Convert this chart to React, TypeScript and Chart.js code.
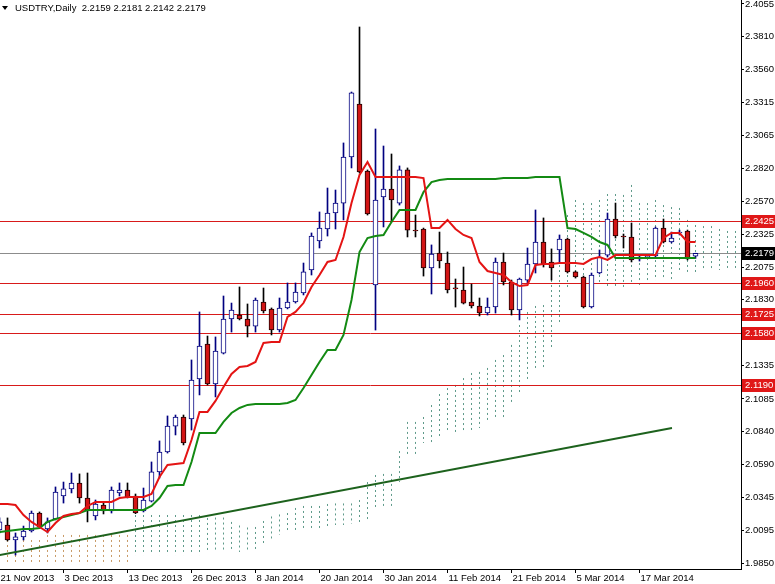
import React, { useEffect, useRef } from 'react';
import { Chart, registerables } from 'chart.js';

Chart.register(...registerables);

const FONT = "'Liberation Sans', Arial, sans-serif";
const FONT_SIZE = 9.5;

const symbol = 'USDTRY';
const timeframe = 'Daily';

const dateTickIndex = [0, 8, 16, 24, 32, 40, 48, 56, 64, 72, 80];
const dateTickLabels = ['21 Nov 2013', '3 Dec 2013', '13 Dec 2013', '26 Dec 2013', '8 Jan 2014', '20 Jan 2014', '30 Jan 2014', '11 Feb 2014', '21 Feb 2014', '5 Mar 2014', '17 Mar 2014'];

const priceTicks = [2.4055, 2.381, 2.356, 2.3315, 2.3065, 2.282, 2.257, 2.2325, 2.2075, 2.183, 2.158, 2.1335, 2.1085, 2.084, 2.059, 2.0345, 2.0095, 1.985];

const opens = [
  2.0099, 2.0137, 2.0024, 2.0047, 2.0092, 2.0227, 2.0107, 2.0182, 2.0355, 2.0408,
  2.0453, 2.0340, 2.0205, 2.0287, 2.0242, 2.0378, 2.0400, 2.0355, 2.0242, 2.0317,
  2.0536, 2.0686, 2.0881, 2.0949, 2.0934, 2.1235, 2.1498, 2.1197, 2.1430, 2.1686,
  2.1716, 2.1686, 2.1633, 2.1814, 2.1761, 2.1603, 2.1769, 2.1814, 2.1882, 2.2055,
  2.2273, 2.2363, 2.2483, 2.2558, 2.2904, 2.3303, 2.2799, 2.1942, 2.2604, 2.2664,
  2.2558, 2.2807, 2.2355, 2.2363, 2.2070, 2.2182, 2.2107, 2.1919, 2.1904, 2.1814,
  2.1784, 2.1731, 2.1776, 2.2115, 2.1964, 2.1754, 2.1979, 2.2100, 2.2265, 2.2115,
  2.2205, 2.2288, 2.2040, 2.2002, 2.1776, 2.2032, 2.2167, 2.2438, 2.2310, 2.2303,
  2.2137, 2.2152, 2.2160, 2.2370, 2.2265, 2.2333, 2.2348, 2.2159,
];
const highs = [
  2.0190, 2.0190, 2.0077, 2.0129, 2.0242, 2.0235, 2.0190, 2.0423, 2.0460, 2.0528,
  2.0521, 2.0528, 2.0325, 2.0302, 2.0423, 2.0453, 2.0453, 2.0370, 2.0415, 2.0611,
  2.0769, 2.0957, 2.0964, 2.0964, 2.1378, 2.1739, 2.1558, 2.1551, 2.1859, 2.1806,
  2.1927, 2.1799, 2.1844, 2.1919, 2.1769, 2.1844, 2.1957, 2.1957, 2.2107, 2.2333,
  2.2491, 2.2671, 2.2656, 2.3010, 2.3393, 2.3882, 2.2807, 2.3115, 2.2987, 2.2927,
  2.2837, 2.2822, 2.2468, 2.2370, 2.2243, 2.2340, 2.2190, 2.1987, 2.2077, 2.1949,
  2.1844, 2.1844, 2.2145, 2.2182, 2.1979, 2.1994, 2.2220, 2.2506, 2.2446, 2.2213,
  2.2318, 2.2295, 2.2047, 2.2009, 2.2032, 2.2205, 2.2483, 2.2558, 2.2325, 2.2408,
  2.2167, 2.2167, 2.2378, 2.2438, 2.2340, 2.2355, 2.2355, 2.2181,
];
const lows = [
  2.0077, 2.0017, 1.9911, 2.0024, 2.0084, 2.0114, 2.0077, 2.0175, 2.0302, 2.0378,
  2.0302, 2.0160, 2.0175, 2.0220, 2.0227, 2.0355, 2.0340, 2.0222, 2.0235, 2.0310,
  2.0490, 2.0678, 2.0814, 2.0739, 2.0851, 2.1115, 2.1190, 2.1100, 2.1423, 2.1588,
  2.1679, 2.1551, 2.1588, 2.1731, 2.1566, 2.1588, 2.1762, 2.1806, 2.1867, 2.2017,
  2.2220, 2.2310, 2.2363, 2.2431, 2.2822, 2.2784, 2.2468, 2.1603, 2.2378, 2.2416,
  2.2543, 2.2303, 2.2303, 2.2009, 2.1874, 2.2070, 2.1882, 2.1776, 2.1799, 2.1769,
  2.1709, 2.1716, 2.1731, 2.1942, 2.1716, 2.1679, 2.1957, 2.2032, 2.2077, 2.1979,
  2.2115, 2.2032, 2.1994, 2.1769, 2.1769, 2.2025, 2.2152, 2.2295, 2.2220, 2.2115,
  2.2122, 2.2145, 2.2152, 2.2258, 2.2258, 2.2318, 2.2130, 2.2142,
];
const closes = [
  2.0160, 2.0024, 2.0047, 2.0092, 2.0227, 2.0122, 2.0160, 2.0385, 2.0408, 2.0453,
  2.0340, 2.0242, 2.0295, 2.0242, 2.0400, 2.0400, 2.0348, 2.0227, 2.0325, 2.0536,
  2.0686, 2.0881, 2.0949, 2.0754, 2.1227, 2.1483, 2.1197, 2.1445, 2.1686, 2.1754,
  2.1686, 2.1633, 2.1829, 2.1746, 2.1603, 2.1769, 2.1814, 2.1889, 2.2040, 2.2310,
  2.2370, 2.2483, 2.2558, 2.2904, 2.3386, 2.2792, 2.2476, 2.2581, 2.2664, 2.2581,
  2.2807, 2.2355, 2.2348, 2.2070, 2.2175, 2.2122, 2.1904, 2.1912, 2.1806, 2.1784,
  2.1731, 2.1776, 2.2115, 2.1964, 2.1754, 2.1987, 2.2100, 2.2265, 2.2100, 2.2070,
  2.2288, 2.2040, 2.2002, 2.1776, 2.2017, 2.2152, 2.2438, 2.2310, 2.2303, 2.2130,
  2.2152, 2.2160, 2.2370, 2.2265, 2.2295, 2.2340, 2.2137, 2.2179,
];

// Ichimoku Tenkan-sen (red) and Kijun-sen (green)
const tenkan = [
  2.0295, 2.0295, 2.0287, 2.0212, 2.0160, 2.0122, 2.0084, 2.0152, 2.0205, 2.0220,
  2.0227, 2.0280, 2.0310, 2.0310, 2.0310, 2.0340, 2.0348, 2.0348, 2.0348, 2.0370,
  2.0498, 2.0588, 2.0596, 2.0603, 2.0776, 2.0987, 2.0987, 2.1070, 2.1175, 2.1273,
  2.1325, 2.1333, 2.1363, 2.1506, 2.1513, 2.1513, 2.1701, 2.1739, 2.1806, 2.1927,
  2.2017, 2.2115, 2.2130, 2.2303, 2.2558, 2.2769, 2.2867, 2.2754, 2.2754, 2.2754,
  2.2754, 2.2754, 2.2754, 2.2746, 2.2370, 2.2370, 2.2431, 2.2363, 2.2318, 2.2295,
  2.2115, 2.2047, 2.2032, 2.2017, 2.1964, 2.1934, 2.1942, 2.2092, 2.2100, 2.2100,
  2.2107, 2.2107, 2.2107, 2.2100, 2.2137, 2.2152, 2.2130, 2.2167, 2.2167, 2.2167,
  2.2167, 2.2167, 2.2167, 2.2295, 2.2333, 2.2333, 2.2265, 2.2265,
];
const kijun = [
  2.0084, 2.0092, 2.0099, 2.0107, 2.0107, 2.0114, 2.0160, 2.0182, 2.0197, 2.0212,
  2.0227, 2.0250, 2.0250, 2.0250, 2.0250, 2.0250, 2.0250, 2.0250, 2.0250, 2.0280,
  2.0340, 2.0430, 2.0438, 2.0438, 2.0611, 2.0829, 2.0829, 2.0829, 2.0912, 2.0979,
  2.1017, 2.1040, 2.1047, 2.1047, 2.1047, 2.1047, 2.1054, 2.1077, 2.1167, 2.1265,
  2.1363, 2.1453, 2.1453, 2.1566, 2.1829, 2.2190, 2.2295, 2.2310, 2.2318, 2.2416,
  2.2506, 2.2506, 2.2506, 2.2641, 2.2716, 2.2731, 2.2739, 2.2739, 2.2739, 2.2739,
  2.2739, 2.2739, 2.2739, 2.2746, 2.2746, 2.2746, 2.2746, 2.2754, 2.2754, 2.2754,
  2.2754, 2.2370, 2.2363, 2.2333, 2.2303, 2.2265, 2.2243, 2.2145, 2.2145, 2.2145,
  2.2145, 2.2145, 2.2145, 2.2145, 2.2145, 2.2145, 2.2145, 2.2145,
];
// Senkou spans (cloud), drawn 26 bars ahead, indices 0..92
const spanA = [
  1.9836, 1.9836, 1.9836, 1.9836, 1.9836, 1.9836, 1.9836, 1.9836, 1.9836, 1.9836,
  1.9836, 1.9836, 1.9836, 1.9836, 1.9836, 1.9836, 1.9836, 2.0212, 2.0212, 2.0212,
  2.0212, 2.0212, 2.0212, 2.0212, 2.0212, 2.0212, 2.0190, 2.0193, 2.0193, 2.0160,
  2.0133, 2.0118, 2.0122, 2.0167, 2.0201, 2.0216, 2.0227, 2.0265, 2.0280, 2.0280,
  2.0280, 2.0295, 2.0299, 2.0299, 2.0299, 2.0325, 2.0460, 2.0513, 2.0521, 2.0521,
  2.0693, 2.0912, 2.0912, 2.0949, 2.1039, 2.1122, 2.1167, 2.1190, 2.1242, 2.1280,
  2.1288, 2.1318, 2.1378, 2.1415, 2.1491, 2.1641, 2.1739, 2.1784, 2.1791, 2.2017,
  2.2280, 2.2468, 2.2581, 2.2558, 2.2558, 2.2581, 2.2626, 2.2626, 2.2619, 2.2694,
  2.2558, 2.2558, 2.2581, 2.2543, 2.2528, 2.2521, 2.2431, 2.2393, 2.2385, 2.2385,
  2.2363, 2.2348, 2.2348,
];
const spanB = [
  2.0024, 2.0024, 2.0024, 2.0024, 2.0024, 2.0024, 2.0062, 2.0062, 2.0062, 2.0062,
  2.0062, 2.0062, 2.0062, 2.0062, 2.0062, 2.0062, 2.0062, 1.9911, 1.9911, 1.9911,
  1.9911, 1.9911, 1.9911, 1.9911, 1.9911, 1.9911, 1.9949, 1.9949, 1.9949, 1.9949,
  1.9934, 1.9934, 1.9949, 1.9987, 2.0024, 2.0062, 2.0084, 2.0099, 2.0114, 2.0114,
  2.0114, 2.0129, 2.0137, 2.0137, 2.0145, 2.0152, 2.0160, 2.0265, 2.0272, 2.0272,
  2.0460, 2.0663, 2.0663, 2.0754, 2.0739, 2.0799, 2.0851, 2.0829, 2.0836, 2.0851,
  2.0866, 2.0912, 2.0927, 2.0942, 2.1054, 2.1137, 2.1227, 2.1303, 2.1318, 2.1453,
  2.1656, 2.1904, 2.2002, 2.2002, 2.1942, 2.1942, 2.1927, 2.1927, 2.1927, 2.1942,
  2.1942, 2.1979, 2.1979, 2.1979, 2.1979, 2.2032, 2.2032, 2.2032, 2.2055, 2.2055,
  2.2055, 2.2055, 2.2055,
];

const levels = [2.2425, 2.196, 2.1725, 2.158, 2.119];
const trendX = [0, 84.06];
const trendY = [1.991, 2.0866];

const X_MIN = 0.0625;
const X_MAX = X_MIN + 741 / 8;
const Y_MIN = 1.9806;
const Y_MAX = 2.4085;

const lastClose = closes[closes.length - 1];

const overlayPlugin = {
  id: 'mt4overlay',
  beforeDatasetsDraw(chart: any) {
    const { ctx, chartArea, scales } = chart;
    const xs = scales.x;
    const ys = scales.y;
    ctx.save();
    ctx.beginPath();
    ctx.rect(chartArea.left, chartArea.top, chartArea.right - chartArea.left, chartArea.bottom - chartArea.top);
    ctx.clip();
    // cloud hatching
    ctx.lineWidth = 1;
    ctx.setLineDash([2, 3]);
    for (let i = 0; i < spanA.length; i++) {
      const px = Math.floor(xs.getPixelForValue(i)) + 0.5;
      const ya = ys.getPixelForValue(spanA[i]);
      const yb = ys.getPixelForValue(spanB[i]);
      ctx.strokeStyle = spanA[i] >= spanB[i] ? '#5e9a8a' : '#c89a66';
      ctx.beginPath();
      ctx.moveTo(px, Math.min(ya, yb));
      ctx.lineTo(px, Math.max(ya, yb));
      ctx.stroke();
    }
    ctx.setLineDash([]);
    // horizontal levels
    ctx.strokeStyle = '#d81a1a';
    levels.forEach((v) => {
      const py = Math.round(ys.getPixelForValue(v)) + 0.5;
      ctx.beginPath();
      ctx.moveTo(chartArea.left, py);
      ctx.lineTo(chartArea.right, py);
      ctx.stroke();
    });
    // current price line
    ctx.strokeStyle = '#8c8c8c';
    const pl = Math.round(ys.getPixelForValue(lastClose)) + 0.5;
    ctx.beginPath();
    ctx.moveTo(chartArea.left, pl);
    ctx.lineTo(chartArea.right, pl);
    ctx.stroke();
    ctx.restore();
  },
  afterDraw(chart: any) {
    const { ctx, chartArea, scales } = chart;
    const ys = scales.y;
    ctx.save();
    ctx.font = `${FONT_SIZE}px ${FONT}`;
    ctx.textBaseline = 'middle';
    ctx.textAlign = 'left';
    const drawBox = (v: number, bg: string) => {
      const py = Math.round(ys.getPixelForValue(v));
      ctx.fillStyle = bg;
      ctx.fillRect(chartArea.right + 1, py - 6, 34, 13);
      ctx.fillStyle = '#ffffff';
      ctx.fillText(v.toFixed(4), chartArea.right + 4, py + 0.5);
    };
    levels.forEach((v) => drawBox(v, '#e01818'));
    drawBox(lastClose, '#000000');
    ctx.restore();
  },
};

export default function App() {
  const canvasRef = useRef<HTMLCanvasElement | null>(null);

  useEffect(() => {
    document.body.style.margin = '0';
    const canvas = canvasRef.current;
    if (!canvas) return;
    const idx = opens.map((_, i) => i);
    const bull = idx.map((i) => closes[i] >= opens[i]);

    const chart = new Chart(canvas, {
      type: 'bar',
      data: {
        datasets: [
          {
            type: 'line',
            label: 'Trend',
            data: trendX.map((x, k) => ({ x, y: trendY[k] })),
            borderColor: '#1d621d',
            borderWidth: 2,
            pointRadius: 0,
            order: 3,
          } as any,
          {
            type: 'line',
            label: 'Kijun-sen',
            data: kijun.map((y, i) => ({ x: i, y })),
            borderColor: '#138a13',
            borderWidth: 2,
            pointRadius: 0,
            tension: 0,
            order: 2,
          } as any,
          {
            type: 'line',
            label: 'Tenkan-sen',
            data: tenkan.map((y, i) => ({ x: i, y })),
            borderColor: '#e41414',
            borderWidth: 2,
            pointRadius: 0,
            tension: 0,
            order: 1,
          } as any,
          {
            type: 'bar',
            label: 'Wick',
            data: idx.map((i) => ({ x: i, y: [lows[i], highs[i]] })),
            backgroundColor: idx.map((i) => (bull[i] ? '#000080' : '#000000')),
            borderWidth: 0,
            barThickness: 1,
            maxBarThickness: 1,
            grouped: false,
            order: 6,
          } as any,
          {
            type: 'bar',
            label: 'Body',
            data: idx.map((i) => ({ x: i, y: [opens[i], closes[i]] })),
            backgroundColor: idx.map((i) => (bull[i] ? '#ffffff' : '#d21515')),
            borderColor: idx.map((i) => (bull[i] ? '#000080' : '#200000')),
            borderWidth: 1,
            borderSkipped: false,
            barThickness: 5,
            maxBarThickness: 5,
            minBarLength: 1,
            grouped: false,
            order: 5,
          } as any,
        ],
      },
      options: {
        responsive: false,
        maintainAspectRatio: false,
        animation: false,
        layout: { padding: 0 },
        plugins: {
          legend: { display: false },
          tooltip: { enabled: false },
          title: { display: false },
        },
        scales: {
          x: {
            type: 'linear',
            min: X_MIN,
            max: X_MAX,
            offset: false,
            grid: { display: true, drawOnChartArea: false, drawTicks: true, tickLength: 4, color: '#000000', offset: false },
            border: { display: true, color: '#000000', width: 1 },
            ticks: {
              autoSkip: false,
              maxRotation: 0,
              minRotation: 0,
              align: 'start',
              labelOffset: 1,
              padding: 0,
              color: '#000000',
              font: { family: FONT, size: FONT_SIZE },
              callback: (v: any) => {
                const k = dateTickIndex.indexOf(Number(v));
                return k >= 0 ? dateTickLabels[k] : '';
              },
            },
            afterBuildTicks: (s: any) => {
              s.ticks = dateTickIndex.map((value) => ({ value }));
            },
            afterFit: (s: any) => {
              s.height = 15;
              s.paddingLeft = 0;
              s.paddingRight = 0;
            },
          },
          y: {
            type: 'linear',
            position: 'right',
            min: Y_MIN,
            max: Y_MAX,
            grid: { display: true, drawOnChartArea: false, drawTicks: true, tickLength: 3, color: '#000000' },
            border: { display: true, color: '#000000', width: 1 },
            ticks: {
              autoSkip: false,
              padding: 1,
              color: '#000000',
              font: { family: FONT, size: FONT_SIZE },
              callback: (v: any) => Number(v).toFixed(4),
            },
            afterBuildTicks: (s: any) => {
              s.ticks = priceTicks.map((value) => ({ value }));
            },
            afterFit: (s: any) => {
              s.width = 34;
              s.paddingTop = 0;
              s.paddingBottom = 0;
            },
          },
        },
      } as any,
      plugins: [overlayPlugin],
    });
    return () => chart.destroy();
  }, []);

  const last = opens.length - 1;
  const title = `${symbol},${timeframe}  ${opens[last].toFixed(4)} ${highs[last].toFixed(4)} ${lows[last].toFixed(4)} ${closes[last].toFixed(4)}`;

  return (
    <div style={{ position: 'relative', width: 775, height: 584, background: '#ffffff', overflow: 'hidden' }}>
      <canvas ref={canvasRef} width={775} height={584} style={{ display: 'block', width: 775, height: 584 }} />
      <div
        style={{
          position: 'absolute',
          left: 2,
          top: 2,
          display: 'flex',
          alignItems: 'center',
          fontFamily: FONT,
          fontSize: FONT_SIZE,
          lineHeight: '11px',
          color: '#000000',
          whiteSpace: 'pre',
          pointerEvents: 'none',
        }}
      >
        <span
          style={{
            display: 'inline-block',
            width: 0,
            height: 0,
            borderLeft: '3px solid transparent',
            borderRight: '3px solid transparent',
            borderTop: '4px solid #000000',
            marginRight: 7,
          }}
        />
        <span>{title}</span>
      </div>
    </div>
  );
}
